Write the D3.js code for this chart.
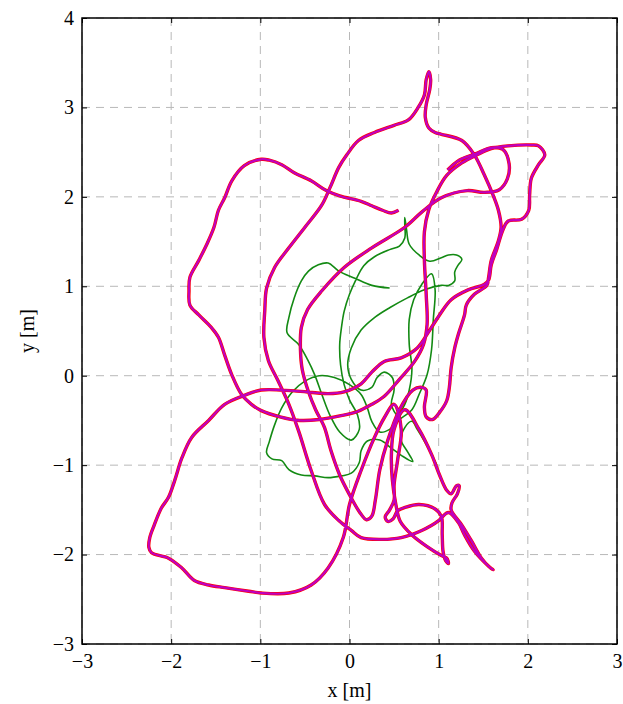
<!DOCTYPE html>
<html><head><meta charset="utf-8">
<script src="https://cdn.jsdelivr.net/npm/d3@7"></script>
<style>body{margin:0;background:#fff} svg text{font-family:"Liberation Serif","DejaVu Serif",serif !important}</style>
</head><body>
<svg id="c" width="623" height="704"></svg>
<script>
const xTicks = [-3,-2,-1,0,1,2,3];
const yTicks = [-3,-2,-1,0,1,2,3,4];
const xLabel = "x [m]";
const yLabel = "y [m]";

// ground-truth trajectory (red) - estimate (magenta) follows the same points
const truthPath = [[0.55,1.85],[0.47,1.82],[0.37,1.85],[0.25,1.90],[0.13,1.95],[-0.11,2.01],[-0.26,2.07],[-0.43,2.18],[-0.62,2.27],[-0.76,2.36],[-0.90,2.41],[-0.99,2.42],[-1.18,2.35],[-1.32,2.18],[-1.40,1.99],[-1.47,1.85],[-1.52,1.66],[-1.60,1.47],[-1.69,1.29],[-1.79,1.10],[-1.80,0.95],[-1.79,0.79],[-1.69,0.68],[-1.55,0.54],[-1.47,0.43],[-1.40,0.23],[-1.32,0.01],[-1.21,-0.21],[-1.10,-0.32],[-0.99,-0.39],[-0.78,-0.46],[-0.56,-0.50],[-0.34,-0.49],[-0.11,-0.45],[0.09,-0.40],[0.25,-0.32],[0.39,-0.23],
[0.56,-0.04],[0.73,0.16],[0.83,0.35],[0.87,0.57],[0.86,0.91],[0.84,1.29],[0.84,1.61],[0.89,1.86],[0.98,2.06],[1.09,2.24],[1.26,2.38],[1.43,2.47],[1.59,2.54],[1.78,2.57],[2.04,2.58],[2.12,2.57],[2.19,2.47],[2.12,2.36],[2.04,2.21],[2.02,2.02],[2.01,1.85],[1.93,1.75],[1.78,1.73],[1.72,1.63],[1.65,1.41],[1.59,1.24],[1.56,1.07],[1.51,1.02],[1.33,0.96],[1.14,0.85],[1.01,0.68],[0.90,0.51],[0.76,0.31],[0.58,0.20],[0.39,0.16],[0.25,0.04],[0.13,-0.09],[-0.06,-0.18],[-0.24,-0.20],[-0.62,-0.17],[-0.99,-0.16],
[-1.18,-0.22],[-1.40,-0.32],[-1.58,-0.50],[-1.77,-0.69],[-1.88,-0.92],[-1.96,-1.17],[-2.03,-1.36],[-2.11,-1.48],[-2.19,-1.67],[-2.24,-1.81],[-2.25,-1.92],[-2.22,-1.98],[-2.03,-2.04],[-1.88,-2.15],[-1.74,-2.29],[-1.58,-2.34],[-1.40,-2.37],[-1.13,-2.41],[-0.99,-2.43],[-0.68,-2.43],[-0.43,-2.34],[-0.24,-2.15],[-0.07,-1.81],[0.00,-1.44],[0.13,-1.06],[0.28,-0.69],[0.39,-0.47],[0.50,-0.32],
[0.58,-0.60],[0.54,-0.94],[0.50,-1.22],[0.50,-1.39],[0.45,-1.50],[0.40,-1.58],[0.43,-1.63],[0.49,-1.60],[0.54,-1.51],[0.63,-1.47],[0.78,-1.44],[0.96,-1.49],[1.03,-1.57],[1.04,-1.78],[1.05,-1.97],[1.08,-2.07],[1.11,-2.10],[1.09,-2.04],[1.03,-2.01],[0.87,-1.91],[0.70,-1.78],[0.57,-1.63],[0.52,-1.44],[0.48,-1.16],[0.47,-0.88],[0.50,-0.60],[0.62,-0.38],
[0.78,-0.60],[0.92,-0.88],[1.01,-1.11],[1.09,-1.28],[1.14,-1.32],[1.20,-1.23],[1.23,-1.23],[1.21,-1.32],[1.15,-1.42],[1.14,-1.50],[1.26,-1.67],[1.37,-1.85],[1.48,-2.04],[1.57,-2.14],[1.61,-2.17],[1.56,-2.13],[1.40,-1.96],[1.29,-1.78],[1.22,-1.64],[1.11,-1.53],[1.03,-1.59],
[1.00,-1.62],[0.81,-1.73],[0.58,-1.81],[0.36,-1.83],[0.13,-1.81],[0.02,-1.73],[-0.12,-1.62],[-0.28,-1.44],[-0.43,-1.06],[-0.57,-0.62],[-0.68,-0.32],[-0.80,-0.06],[-0.91,0.17],[-0.96,0.43],[-0.95,0.73],[-0.93,0.98],[-0.84,1.21],[-0.68,1.43],[-0.50,1.66],[-0.31,1.91],[-0.22,2.10],[-0.12,2.33],[-0.03,2.47],[0.10,2.63],[0.28,2.72],[0.50,2.80],[0.66,2.86],[0.77,3.00],[0.84,3.14],[0.86,3.31],[0.89,3.40],[0.91,3.31],[0.90,3.20],[0.86,3.03],[0.85,2.89],[0.89,2.77],[0.96,2.72],[1.03,2.70],[1.26,2.63],[1.40,2.47],[1.51,2.25],[1.61,2.02],[1.67,1.85],[1.70,1.66],[1.67,1.51],[1.59,1.29],[1.56,1.10],[1.54,1.01],[1.40,0.91],[1.31,0.79],[1.29,0.68],[1.22,0.46],[1.18,0.31],[1.14,0.09],[1.12,-0.13],[1.09,-0.28],[1.01,-0.41],[0.93,-0.49],[0.86,-0.46],[0.84,-0.35],[0.86,-0.16],[0.81,-0.13],[0.71,-0.16],
[0.56,-0.38],[0.43,-0.72],[0.34,-1.05],[0.29,-1.39],[0.25,-1.57],[0.19,-1.61],
[0.11,-1.52],[0.00,-1.33],[-0.11,-1.11],[-0.21,-0.83],[-0.28,-0.58],[-0.38,-0.38],[-0.46,-0.18],[-0.53,0.07],[-0.55,0.29],[-0.54,0.54],[-0.47,0.74],[-0.31,0.95],[-0.06,1.21],[0.25,1.43],[0.62,1.66],[0.81,1.83],[1.03,1.99],[1.32,2.07],[1.51,2.05],[1.68,2.08],[1.77,2.20],[1.79,2.37],[1.72,2.53],[1.59,2.55],[1.41,2.48],[1.23,2.41],[1.10,2.30]];

// second trajectory (green)
const greenPath = [[0.45,0.98],[0.25,1.01],[0.06,1.09],[-0.12,1.17],[-0.24,1.26],[-0.35,1.24],[-0.46,1.17],[-0.54,1.06],[-0.62,0.87],[-0.68,0.65],[-0.70,0.48],[-0.57,0.35],[-0.47,0.18],[-0.39,0.01],[-0.31,-0.21],[-0.22,-0.44],[-0.11,-0.63],[0.02,-0.72],[0.11,-0.60],[0.09,-0.44],[0.00,-0.27],[-0.06,-0.10],[-0.10,0.12],[-0.11,0.35],[-0.09,0.54],[-0.06,0.72],[0.00,0.91],[0.07,1.07],[0.16,1.23],[0.28,1.33],[0.45,1.41],[0.56,1.45],[0.62,1.54],[0.62,1.68],[0.62,1.77],[0.64,1.63],[0.67,1.47],[0.78,1.35],[0.90,1.28],[1.03,1.32],[1.11,1.35],[1.20,1.35],[1.26,1.30],[1.22,1.24],[1.18,1.16],[1.18,1.06],[1.11,1.01],[1.03,1.01],[0.84,0.96],[0.65,0.87],[0.45,0.76],[0.28,0.65],[0.13,0.51],[0.02,0.31],[-0.02,0.12],[0.02,-0.04],[0.13,-0.16],[0.25,-0.13],[0.31,-0.02],[0.39,0.04],[0.48,-0.02],[0.50,-0.16],[0.47,-0.32],[0.54,-0.44],[0.62,-0.32],[0.67,-0.16],[0.70,0.07],[0.67,0.35],[0.67,0.63],[0.72,0.85],[0.81,1.02],[0.92,1.14],[0.96,0.96],[0.94,0.63],[0.92,0.29],[0.87,0.01],[0.78,-0.21],[0.70,-0.38],[0.56,-0.49],[0.45,-0.60],[0.34,-0.63],[0.25,-0.51],[0.20,-0.36],[0.13,-0.21],[0.00,-0.10],[-0.17,-0.02],[-0.34,0.00],[-0.50,-0.06],[-0.64,-0.18],[-0.76,-0.36],[-0.84,-0.55],[-0.90,-0.74],[-0.93,-0.86],[-0.87,-0.93],[-0.76,-0.95],[-0.68,-1.05],[-0.54,-1.11],[-0.39,-1.12],[-0.24,-1.14],[-0.09,-1.12],[0.02,-1.09],[0.11,-0.97],[0.13,-0.84],[0.20,-0.73],[0.34,-0.72],[0.47,-0.81],[0.58,-0.89],[0.71,-0.96],[0.65,-0.85],[0.58,-0.72],[0.62,-0.58],[0.70,-0.51],[0.76,-0.60],[0.85,-0.75],[0.92,-0.88],[0.98,-1.00]];

const PL = 82, PR = 617, PT = 18, PB = 644;
const FS = 20;
const x = d3.scaleLinear().domain([-3,3]).range([PL,PR]);
const y = d3.scaleLinear().domain([-3,4]).range([PB,PT]);
const svg = d3.select("#c");
const fmt = d => d < 0 ? "\u2212" + Math.abs(d) : String(d);

// grid
const grid = svg.append("g").attr("stroke","#b8b8b8").attr("stroke-width",1).attr("stroke-dasharray","8,6");
grid.selectAll(".gx").data(xTicks).join("line").attr("x1",d=>x(d)).attr("x2",d=>x(d)).attr("y1",PT).attr("y2",PB);
grid.selectAll(".gy").data(yTicks).join("line").attr("y1",d=>y(d)).attr("y2",d=>y(d)).attr("x1",PL).attr("x2",PR);

svg.append("clipPath").attr("id","clip").append("rect").attr("x",PL).attr("y",PT).attr("width",PR-PL).attr("height",PB-PT);
const line = d3.line().x(d=>x(d[0])).y(d=>y(d[1])).curve(d3.curveCatmullRom.alpha(0.5));
const plot = svg.append("g").attr("clip-path","url(#clip)");
plot.append("path").datum(greenPath).attr("d",line).attr("fill","none").attr("stroke","#138a13").attr("stroke-width",1.6).attr("stroke-linejoin","round");
plot.append("path").datum(truthPath).attr("d",line).attr("fill","none").attr("stroke","#ff0000").attr("stroke-width",3.4).attr("stroke-linejoin","round");
plot.append("path").datum(truthPath).attr("d",line).attr("fill","none").attr("stroke","#bf00bf").attr("stroke-width",2.2).attr("stroke-linejoin","round");

// axes (inward ticks on all sides)
const axB = svg.append("g").attr("transform",`translate(0,${PB})`).call(d3.axisBottom(x).tickValues(xTicks).tickFormat(fmt).tickSize(-5).tickPadding(10));
const axT = svg.append("g").attr("transform",`translate(0,${PT})`).call(d3.axisTop(x).tickValues(xTicks).tickFormat("").tickSize(-5));
const axL = svg.append("g").attr("transform",`translate(${PL},0)`).call(d3.axisLeft(y).tickValues(yTicks).tickFormat(fmt).tickSize(-5).tickPadding(8));
const axR = svg.append("g").attr("transform",`translate(${PR},0)`).call(d3.axisRight(y).tickValues(yTicks).tickFormat("").tickSize(-5));
[axB,axT,axL,axR].forEach(a=>{
  a.attr("font-family",null).attr("font-size",null);
  a.select(".domain").remove();
  a.selectAll("line").attr("stroke","#000").attr("stroke-width",1);
  a.selectAll("text").style("font-family","'Liberation Serif','DejaVu Serif',serif").style("font-size",FS+"px").attr("fill","#000");
});
svg.append("rect").attr("x",PL).attr("y",PT).attr("width",PR-PL).attr("height",PB-PT).attr("fill","none").attr("stroke","#000").attr("stroke-width",1.5);

svg.append("text").attr("x",(PL+PR)/2).attr("y",697).attr("text-anchor","middle").style("font-size",FS+"px").text(xLabel);
svg.append("text").attr("transform",`translate(34,${(PT+PB)/2}) rotate(-90)`).attr("text-anchor","middle").style("font-size",FS+"px").text(yLabel);
</script>
</body></html>
